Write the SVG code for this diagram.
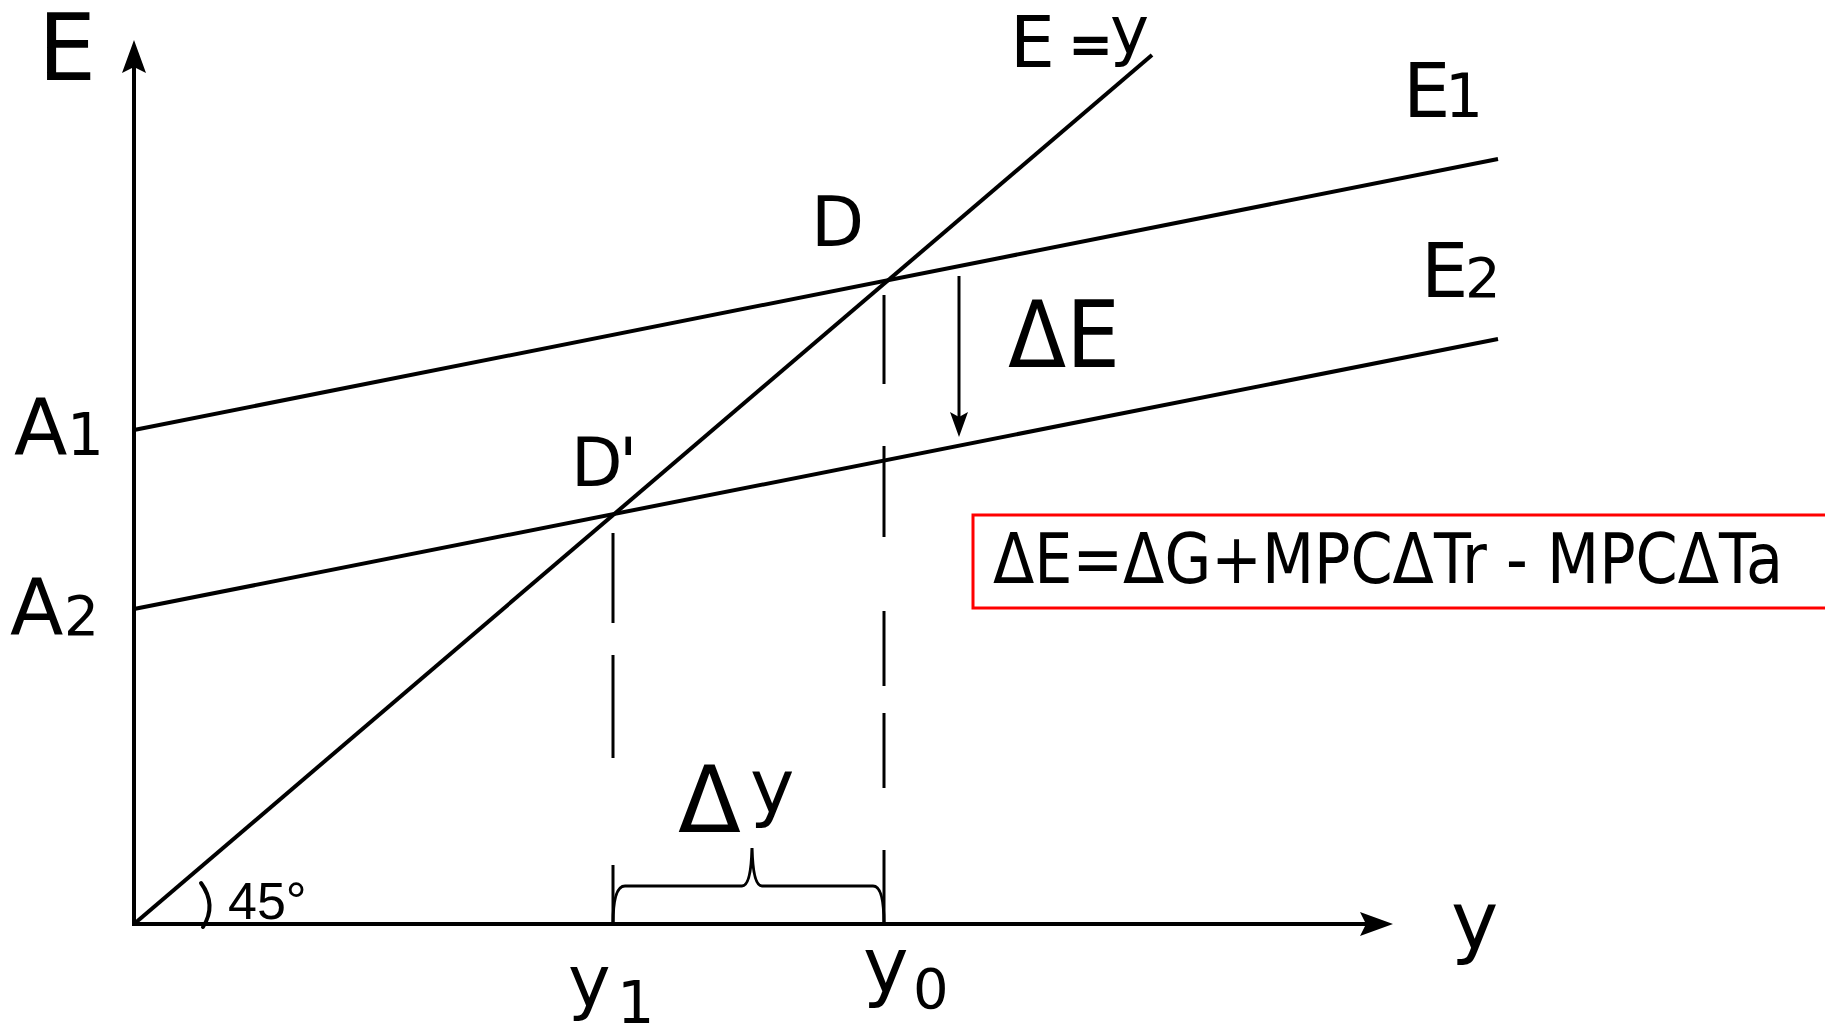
<svg xmlns="http://www.w3.org/2000/svg" width="1825" height="1026" viewBox="0 0 1825 1026">
  <style>
    .lbl { font-family: "DejaVu Sans", "Noto Sans", sans-serif; fill: #000; }
    .arial { font-family: "Liberation Sans", Arial, sans-serif; fill: #000; }
    .ln { stroke: #000; stroke-width: 4; fill: none; stroke-linecap: butt; }
    .thin { stroke: #000; stroke-width: 3; fill: none; }
  </style>
  <defs>
    <marker id="arrowBig" viewBox="-14 -13 36 26" markerWidth="36" markerHeight="26" refX="0" refY="0" orient="auto" markerUnits="userSpaceOnUse">
      <path d="M20,0 L-13,-12 L-7,0 L-13,12 Z" fill="#000"/>
    </marker>
    <marker id="arrowSmall" viewBox="-10 -10 28 20" markerWidth="28" markerHeight="20" refX="0" refY="0" orient="auto" markerUnits="userSpaceOnUse">
      <path d="M16,0 L-9,-9 L-4,0 L-9,9 Z" fill="#000"/>
    </marker>
  </defs>
  <rect width="1825" height="1026" fill="#fff"/>

  <g id="connectors">
    <line class="ln" x1="134" y1="926" x2="134" y2="60" marker-end="url(#arrowBig)"/>
    <line class="ln" x1="132" y1="924" x2="1373" y2="924" marker-end="url(#arrowBig)"/>
    <line class="ln" x1="134" y1="924" x2="1152" y2="55"/>
    <line class="ln" x1="134" y1="430" x2="1498" y2="159"/>
    <line class="ln" x1="134" y1="609" x2="1498" y2="339"/>
    <path class="thin" d="M884,295 V384 M884,446 V537 M884,611 V686 M884,713 V788 M884,850 V924"/>
    <path class="thin" d="M613,533 V623 M613,655 V758 M613,865 V924"/>
    <line class="thin" x1="959" y1="276" x2="959" y2="421" marker-end="url(#arrowSmall)"/>
    <path class="thin" d="M613,924 Q613,886 625,886 L742,886 Q751,886 752,848 Q753,886 762,886 L873,886 Q884,886 884,924"/>
    <path d="M201,883 Q217,905 203,927" stroke="#000" stroke-width="4" fill="none" stroke-linecap="round"/>
  </g>

  <g id="label-E-axis">
    <text class="lbl" x="38" y="80" font-size="92">E</text>
  </g>
  <g id="label-E-eq-y">
    <text class="lbl" y="67" font-size="71"><tspan x="1010">E </tspan><tspan x="1068" y="63" font-size="54" font-weight="bold">=</tspan><tspan x="1110" y="53" font-size="66">y</tspan></text>
  </g>
  <g id="label-E1">
    <text class="lbl" y="117" font-size="75"><tspan x="1403">E</tspan><tspan x="1445" font-size="60">1</tspan></text>
  </g>
  <g id="label-E2">
    <text class="lbl" y="297" font-size="75"><tspan x="1421">E</tspan><tspan x="1465" font-size="56">2</tspan></text>
  </g>
  <g id="label-A1">
    <text class="lbl" y="455" font-size="78"><tspan x="14">A</tspan><tspan x="67" font-size="58">1</tspan></text>
  </g>
  <g id="label-A2">
    <text class="lbl" y="635" font-size="78"><tspan x="10">A</tspan><tspan x="64" font-size="55">2</tspan></text>
  </g>
  <g id="label-D">
    <text class="lbl" x="811" y="246" font-size="69">D</text>
  </g>
  <g id="label-D-prime">
    <text class="lbl" y="486" font-size="67"><tspan x="571">D</tspan><tspan x="619">'</tspan></text>
  </g>
  <g id="label-deltaE">
    <text class="lbl" x="1008" y="367" font-size="92" textLength="112" lengthAdjust="spacingAndGlyphs">ΔE</text>
  </g>
  <g id="formula-box">
    <rect x="973" y="515" width="900" height="93" fill="none" stroke="#ff0000" stroke-width="3"/>
    <text class="lbl" x="993" y="583" font-size="69" textLength="790" lengthAdjust="spacingAndGlyphs">ΔE=ΔG+MPCΔTr - MPCΔTa</text>
  </g>
  <g id="label-45">
    <text class="arial" x="228" y="919" font-size="52">45°</text>
  </g>
  <g id="label-delta-y">
    <text class="lbl" y="832" font-size="92"><tspan x="678">Δ</tspan><tspan x="750" y="812" font-size="75">y</tspan></text>
  </g>
  <g id="label-y1">
    <text class="lbl" y="1006" font-size="72"><tspan x="568">y</tspan><tspan x="617" y="1023" font-size="59">1</tspan></text>
  </g>
  <g id="label-y0">
    <text class="lbl" y="992" font-size="77"><tspan x="863">y</tspan><tspan x="913" y="1008" font-size="56">0</tspan></text>
  </g>
  <g id="label-y-axis">
    <text class="lbl" x="1451" y="948" font-size="80">y</text>
  </g>
</svg>
